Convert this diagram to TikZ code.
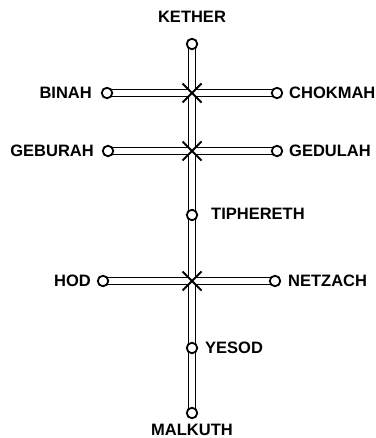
\documentclass[tikz,border=0pt]{standalone}
\usepackage{fontspec}
\setmainfont{Liberation Sans}
\pgfdeclarelayer{background}
\pgfsetlayers{background,main}
\begin{document}
\begin{tikzpicture}[x=1pt,y=1pt,
  sephira/.style={circle,draw=black,fill=white,line width=1.8pt,minimum size=10.5pt,inner sep=0pt},
  lbl/.style={font=\bfseries\fontsize{16.5}{18}\selectfont,inner sep=0pt},
  tubeout/.style={line width=8.6pt,black},
  tubein/.style={line width=5.2pt,white},
  cross/.style={line width=2pt,black}]
\useasboundingbox (0,0) rectangle (375,-438);
\node[sephira] (kether) at (192,-44) {};
\node[sephira] (binah) at (107,-93) {};
\node[sephira] (chokmah) at (277,-93) {};
\node[sephira] (geburah) at (108,-151) {};
\node[sephira] (gedulah) at (277,-151) {};
\node[sephira] (tiphereth) at (192,-215) {};
\node[sephira] (hod) at (103,-281) {};
\node[sephira] (netzach) at (275,-281) {};
\node[sephira] (yesod) at (192,-348) {};
\node[sephira] (malkuth) at (192,-413) {};
\coordinate (c1) at (192,-93);
\coordinate (c2) at (192,-151);
\coordinate (c3) at (192,-281);
\begin{pgfonlayer}{background}
  \draw[tubeout] (kether.center) -- (malkuth.center);
  \draw[tubeout] (binah.center) -- (chokmah.center);
  \draw[tubeout] (geburah.center) -- (gedulah.center);
  \draw[tubeout] (hod.center) -- (netzach.center);
  \draw[tubein] (kether.center) -- (malkuth.center);
  \draw[tubein] (binah.center) -- (chokmah.center);
  \draw[tubein] (geburah.center) -- (gedulah.center);
  \draw[tubein] (hod.center) -- (netzach.center);
\end{pgfonlayer}
\foreach \c in {c1,c2,c3}{
  \fill[white] ([shift={(-4.4,-4.4)}]\c) rectangle ([shift={(4.4,4.4)}]\c);
  \draw[cross] ([shift={(-9.5,-9.5)}]\c) -- ([shift={(9.5,9.5)}]\c);
  \draw[cross] ([shift={(-9.5,9.5)}]\c) -- ([shift={(9.5,-9.5)}]\c);
}
\node[lbl,anchor=south] (tkether) at (192,-23) {KETHER};
\node[lbl,anchor=north] (tmalkuth) at (192,-424) {MALKUTH};
\node[lbl,anchor=east] (tbinah) at (92,-93) {BINAH};
\node[lbl,anchor=west] (tchokmah) at (289,-93) {CHOKMAH};
\node[lbl,anchor=east] (tgeburah) at (94,-151) {GEBURAH};
\node[lbl,anchor=west] (tgedulah) at (289,-151) {GEDULAH};
\node[lbl,anchor=west] (ttiphereth) at (211,-214) {TIPHERETH};
\node[lbl,anchor=east] (thod) at (91,-281) {HOD};
\node[lbl,anchor=west] (tnetzach) at (288,-281) {NETZACH};
\node[lbl,anchor=west] (tyesod) at (205,-348) {YESOD};
\end{tikzpicture}
\end{document}
